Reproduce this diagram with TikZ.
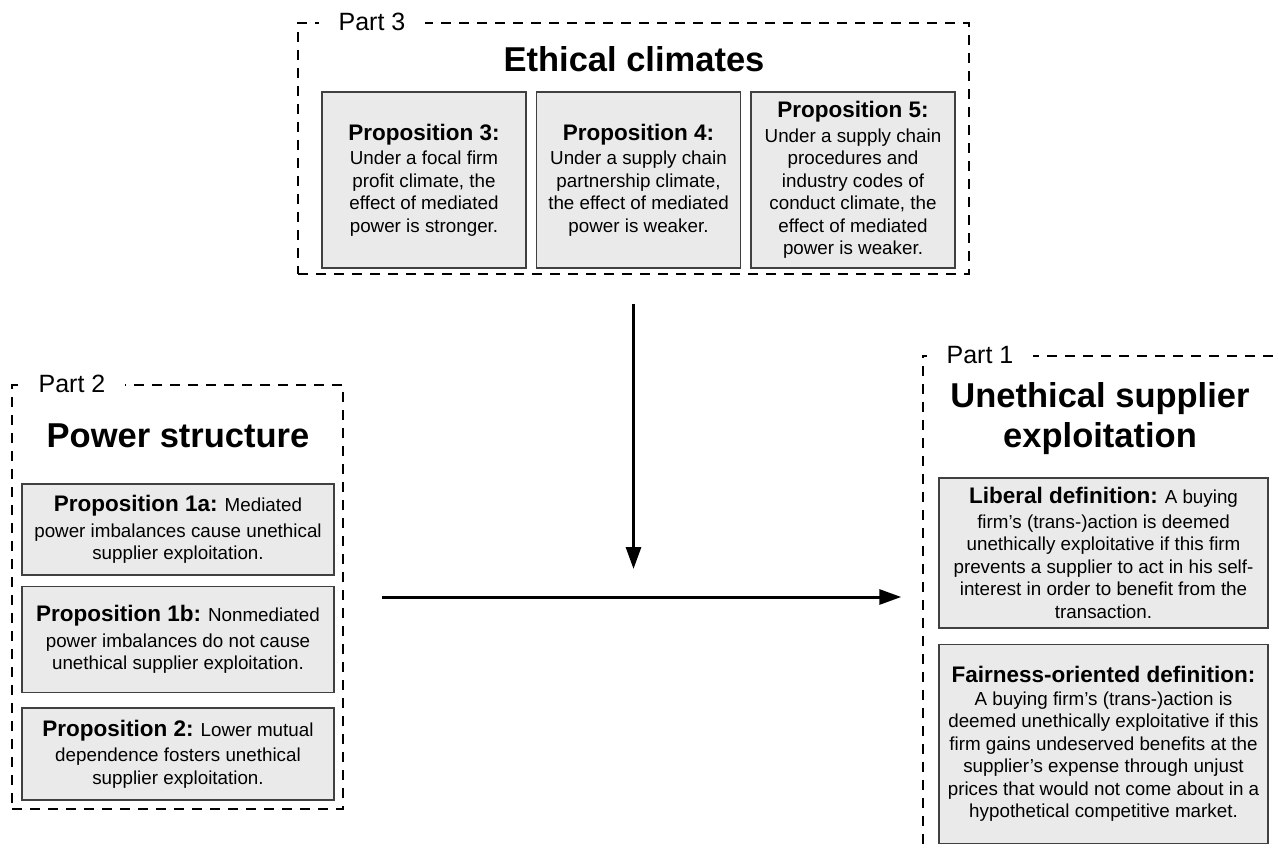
\documentclass[tikz,border=0pt]{standalone}
\usepackage{fontspec}
\setmainfont{Liberation Sans}
\usetikzlibrary{arrows.meta, positioning}
\definecolor{boxfill}{RGB}{234,234,234}
\definecolor{boxline}{RGB}{64,64,64}
\tikzstyle{frame} = [rectangle, draw=black, line width=1.5pt, dash pattern=on 10pt off 8pt]
\tikzstyle{partlabel} = [fill=white, inner xsep=20pt, inner ysep=0pt, font=\fontsize{25}{28}\selectfont]
\tikzstyle{heading} = [align=center, font=\fontsize{34.5}{40}\selectfont\bfseries]
\tikzstyle{prop} = [rectangle, draw=boxline, fill=boxfill, line width=1.5pt, align=center, inner sep=4pt, font=\fontsize{18.8}{22.5}\selectfont]
\tikzstyle{climbox} = [prop, minimum width=204pt, minimum height=176pt]
\tikzstyle{powerbox} = [prop, minimum width=312pt]
\tikzstyle{defbox} = [prop, minimum width=329pt]
\tikzstyle{arrow} = [line width=3pt, -{Triangle[length=22pt,width=15pt]}]
\newcommand{\prophead}[1]{{\fontsize{22.5}{25}\selectfont\bfseries #1}}

\begin{document}
\begin{tikzpicture}[x=1pt, y=-1pt]
    \useasboundingbox (0,0) rectangle (1279,850);
    \clip (0,0) rectangle (1279,850);

    \node (part3) [frame, minimum width=671pt, minimum height=251pt] at (633.5,148.5) {};
    \node (part2) [frame, minimum width=331pt, minimum height=424pt] at (177.5,597) {};
    \node (part1) [frame, minimum width=377pt, minimum height=514pt] at (1111.5,613) {};

    \node (lab3) [partlabel] at (372,22) {Part 3};
    \node (lab2) [partlabel] at (72,384) {Part 2};
    \node (lab1) [partlabel] at (980,355) {Part 1};

    \node (title3) [heading, anchor=base] at (634,72) {Ethical climates};
    \node (title2) [heading, anchor=base] at (178,447) {Power structure};
    \node (title1) [heading] at (1100,419) {Unethical supplier\\exploitation};

    \node (p3) [climbox] at (424,180) {\prophead{Proposition 3:}\\[2pt]Under a focal firm\\profit climate, the\\effect of mediated\\power is stronger.};
    \node (p4) [climbox, right=9pt of p3] {\prophead{Proposition 4:}\\[2pt]Under a supply chain\\partnership climate,\\the effect of mediated\\power is weaker.};
    \node (p5) [climbox, right=9pt of p4] {\prophead{Proposition 5:}\\[2pt]Under a supply chain\\procedures and\\industry codes of\\conduct climate, the\\effect of mediated\\power is weaker.};

    \node (p1a) [powerbox, minimum height=91pt] at (178,529.5) {\prophead{Proposition 1a:} Mediated\\[3pt]power imbalances cause unethical\\supplier exploitation.};
    \node (p1b) [powerbox, minimum height=106pt, below=10pt of p1a] {\prophead{Proposition 1b:} Nonmediated\\[3pt]power imbalances do not cause\\unethical supplier exploitation.};
    \node (p2) [powerbox, minimum height=92pt, below=14pt of p1b] {\prophead{Proposition 2:} Lower mutual\\[3pt]dependence fosters unethical\\supplier exploitation.};

    \node (liberal) [defbox, minimum height=150pt] at (1103.5,553) {\prophead{Liberal definition:} A buying\\[2pt]firm’s (trans-)action is deemed\\unethically exploitative if this firm\\prevents a supplier to act in his self-\\interest in order to benefit from the\\transaction.};
    \node (fairness) [defbox, minimum height=199pt, below=15pt of liberal] {\prophead{Fairness-oriented definition:}\\A buying firm’s (trans-)action is\\deemed unethically exploitative if this\\firm gains undeserved benefits at the\\supplier’s expense through unjust\\prices that would not come about in a\\hypothetical competitive market.};

    \coordinate (join) at (part3.south |- part2.east);
    \draw [arrow, shorten <=29pt, shorten >=28pt] (part3.south) -- (join);
    \draw [arrow, shorten <=38pt, shorten >=21pt] (part2.east) -- (part1.west |- part2.east);
\end{tikzpicture}
\end{document}
